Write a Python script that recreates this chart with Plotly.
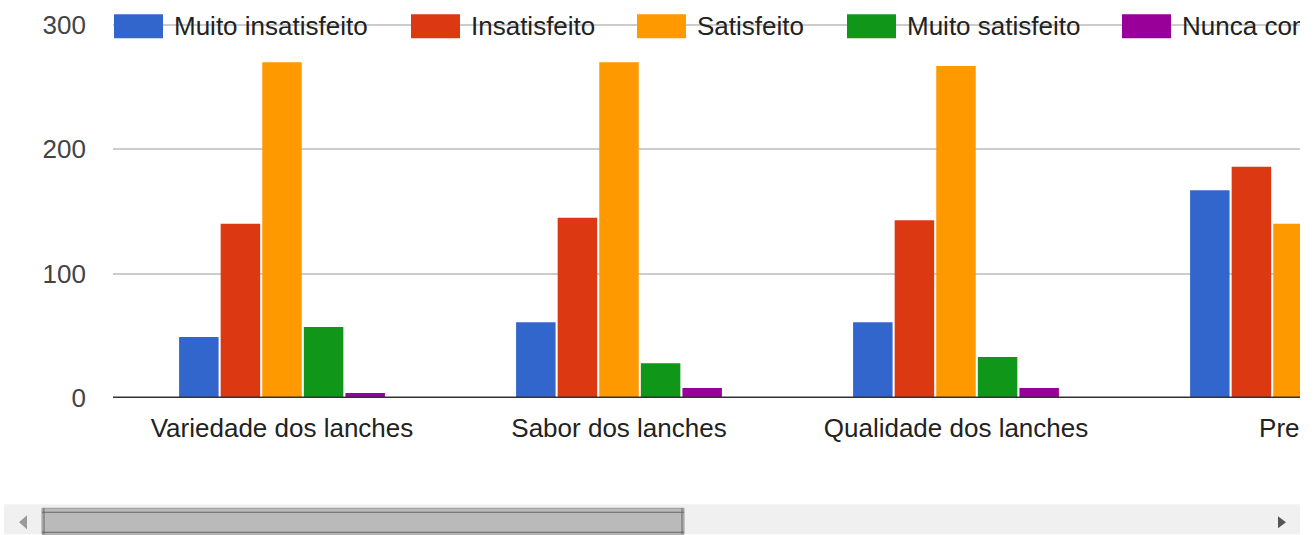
import plotly.graph_objects as go

# ---------------- data ----------------
categories = ["Variedade dos lanches", "Sabor dos lanches", "Qualidade dos lanches", "Preço"]
series_names = ["Muito insatisfeito", "Insatisfeito", "Satisfeito", "Muito satisfeito", "Nunca comprei"]
muito_insatisfeito = [49, 61, 61, 167]
insatisfeito = [140, 145, 143, 186]
satisfeito = [270, 270, 267, 140]
muito_satisfeito = [57, 28, 33, None]
nunca_comprei = [4, 8, 8, None]
y_ticks = [0, 100, 200, 300]

series_values = [muito_insatisfeito, insatisfeito, satisfeito, muito_satisfeito, nunca_comprei]
colors = ["#3366cc", "#dc3912", "#ff9900", "#109618", "#990099"]

# ---------------- layout geometry (pixels) ----------------
W, H = 1300, 535
PL, PR = 113, 1300          # plot left / right
Y_MAX = 301.5
PB = 398.5                  # pixel of y = 0
PX_PER_UNIT = (398.5 - 24.6) / 300
PT = PB - Y_MAX * PX_PER_UNIT
FONT = "Arial, Liberation Sans, sans-serif"


def px(X):
    return (X - PL) / (PR - PL)


def py(Y):
    return (PB - Y) / (PB - PT)


fig = go.Figure()
for name, vals, col in zip(series_names, series_values, colors):
    fig.add_trace(go.Bar(x=categories, y=vals, name=name, marker=dict(color=col, line=dict(width=0)),
                         showlegend=False))

shapes = []
annotations = []

# baseline at y = 0
shapes.append(dict(type="line", xref="paper", yref="y", x0=0, x1=1, y0=0, y1=0,
                   line=dict(color="#333333", width=3), layer="above"))

# manual legend (Google-Charts style)
legend_swatch_x = [114, 411, 637, 847, 1122]
for X, name, col in zip(legend_swatch_x, series_names, colors):
    shapes.append(dict(type="rect", xref="paper", yref="paper",
                       x0=px(X), x1=px(X + 49), y0=py(38), y1=py(14),
                       fillcolor=col, line=dict(width=0), layer="above"))
    annotations.append(dict(xref="paper", yref="paper", x=px(X + 58), y=py(26),
                            xanchor="left", yanchor="middle", showarrow=False,
                            text=name, font=dict(family=FONT, size=26, color="#222222")))

# scrollbar decoration
shapes.append(dict(type="rect", xref="paper", yref="paper", x0=px(4), x1=px(1300),
                   y0=py(535), y1=py(505), fillcolor="#f0f0f0", line=dict(width=0), layer="above"))
shapes.append(dict(type="rect", xref="paper", yref="paper", x0=px(42), x1=px(684),
                   y0=py(535), y1=py(509), fillcolor="#bababa",
                   line=dict(color="#9a9a9a", width=1), layer="above"))
for Yl in (513, 533):
    shapes.append(dict(type="line", xref="paper", yref="paper", x0=px(42), x1=px(684),
                       y0=py(Yl), y1=py(Yl), line=dict(color="#666666", width=1), layer="above"))
for Xl in (44, 682):
    shapes.append(dict(type="line", xref="paper", yref="paper", x0=px(Xl), x1=px(Xl),
                       y0=py(535), y1=py(509), line=dict(color="#666666", width=1), layer="above"))
shapes.append(dict(type="path", xref="paper", yref="paper",
                   path=f"M {px(27)} {py(516)} L {px(19)} {py(523)} L {px(27)} {py(530)} Z",
                   fillcolor="#9a9a9a", line=dict(width=0), layer="above"))
shapes.append(dict(type="path", xref="paper", yref="paper",
                   path=f"M {px(1278)} {py(517)} L {px(1286)} {py(523)} L {px(1278)} {py(529)} Z",
                   fillcolor="#555555", line=dict(width=0), layer="above"))

fig.update_layout(
    width=W, height=H,
    margin=dict(l=PL, r=W - PR, t=PT, b=H - PB, pad=0, autoexpand=False),
    paper_bgcolor="white", plot_bgcolor="white",
    barmode="group", bargap=0.383, bargroupgap=0.05,
    font=dict(family=FONT, size=26, color="#222222"),
    shapes=shapes, annotations=annotations,
    xaxis=dict(type="category", range=[(PL - 282) / 337, (PR - 282) / 337],
               showgrid=False, zeroline=False, showline=False, ticks="",
               tickfont=dict(family=FONT, size=26, color="#222222"),
               ticklabelstandoff=12, automargin=False, fixedrange=True),
    yaxis=dict(range=[0, Y_MAX], tickvals=y_ticks, ticktext=[str(v) for v in y_ticks],
               showgrid=True, gridcolor="#cccccc", gridwidth=2, zeroline=False,
               showline=False, ticks="", tickfont=dict(family=FONT, size=26, color="#444444"),
               ticklabelstandoff=26, automargin=False, fixedrange=True),
)

fig.write_html("out.html", config={"displayModeBar": False},
               post_script="document.body.style.margin='0';")
